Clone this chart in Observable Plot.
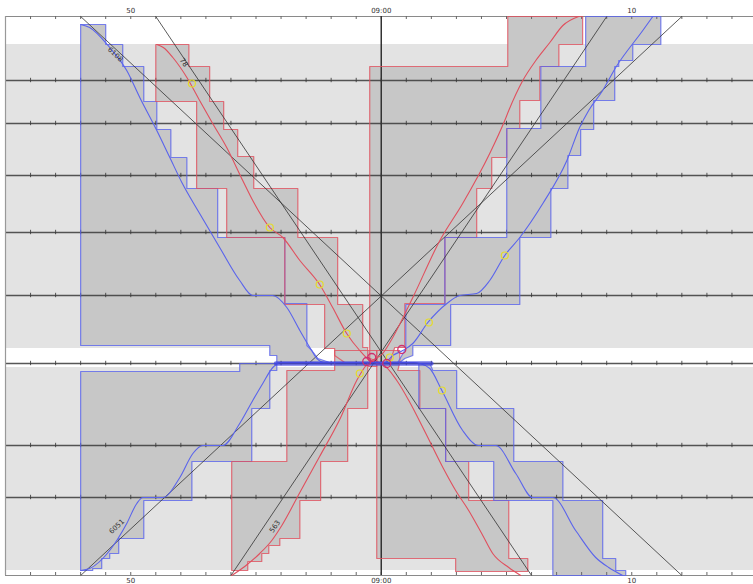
<!DOCTYPE html>
<html><head><meta charset="utf-8">
<script src="https://cdn.jsdelivr.net/npm/d3@7"></script>
<script src="https://cdn.jsdelivr.net/npm/@observablehq/plot@0.6"></script>
<style>body{margin:0;background:#fff} svg{display:block}</style>
</head><body><div id="chart"></div>
<script>
// x: minutes relative to 09:00, y: distance along the line (km)
const stations = [6.4, 10.7, 15.9, 21.6, 27.9, 34.7, 42.9, 48.1];
const edges = [0, 55.9];
const bands = [[2.8, 33.2], [35.1, 55.4]];
const timeTicks = [-10, 0, 10];
const timeTickLabels = ["50", "09:00", "10"];
const minuteMarks = [-15,-14,-13,-12,-11,-10,-9,-8,-7,-6,-5,-4,-3,-2,-1,0,1,2,3,4,5,6,7,8,9,10,11,12,13,14];

// envelopes (time windows) per train
const env6108Up = [[-12,0.8],[-11,0.8],[-11,2.8],[-10.32,2.8],[-10.32,5.0],[-9.48,5.0],[-9.48,8.5],[-8.96,8.5],[-8.96,11.3],[-8.4,11.3],[-8.4,14.1],[-7.76,14.1],[-7.76,17.2],[-6.53,17.2],[-6.53,22.1],[-3.85,22.1],[-3.85,28.7],[-2.97,28.7],[-2.97,32.9],[-2.77,33.4],[-2.53,34.2],[-2.06,34.6],[-4.17,34.6],[-4.17,33.9],[-4.45,33.9],[-4.45,32.9],[-12,32.9]];
const env78Up = [[-9.0,2.8],[-7.68,2.8],[-7.68,5.0],[-6.85,5.0],[-6.85,8.5],[-6.29,8.5],[-6.29,11.3],[-5.73,11.3],[-5.73,14.0],[-5.09,14.0],[-5.09,17.2],[-3.33,17.2],[-3.33,22.1],[-1.74,22.1],[-1.74,28.8],[-0.74,28.8],[-0.74,33.1],[-0.54,33.1],[-0.54,34.1],[-0.06,34.6],[-1.46,34.6],[-1.86,33.9],[-1.86,33.2],[-2.26,33.2],[-2.26,28.8],[-3.85,28.8],[-3.85,22.1],[-6.17,22.1],[-6.17,17.2],[-7.37,17.2],[-7.37,8.5],[-9.0,8.5]];
const env6051Down = [[-12,55.4],[-12,35.5],[-5.65,35.5],[-5.65,34.7],[-4.17,34.7],[-4.17,35.4],[-4.45,35.4],[-4.45,39.2],[-5.17,39.2],[-5.17,44.5],[-7.56,44.5],[-7.56,48.4],[-9.48,48.4],[-9.48,52.2],[-10.48,52.2],[-10.48,53.7],[-10.84,53.7],[-10.84,54.2],[-11.16,54.2],[-11.16,55.2],[-11.52,55.2],[-11.52,55.4]];
const env563Down = [[-5.97,55.4],[-5.97,44.5],[-3.77,44.5],[-3.77,35.4],[-1.86,35.4],[-1.86,33.4],[-0.18,33.4],[-0.18,35.0],[-0.54,35.0],[-0.54,39.2],[-1.34,39.2],[-1.34,44.5],[-2.42,44.5],[-2.42,48.4],[-3.25,48.4],[-3.25,52.2],[-4.05,52.2],[-4.05,52.9],[-4.49,52.9],[-4.49,53.7],[-4.77,53.7],[-4.77,54.5],[-5.33,54.5],[-5.33,55.4]];
const env78Down = [[-0.18,33.4],[0.74,33.4],[0.74,34.6],[0.66,35.4],[1.54,35.4],[1.54,39.2],[2.57,39.2],[2.57,44.5],[3.49,44.5],[3.49,48.4],[5.09,48.4],[5.09,54.2],[5.85,54.2],[5.85,55.5],[2.97,55.5],[2.97,54.2],[-0.18,54.2]];
const env6108Down = [[1.50,34.7],[1.94,34.7],[2.06,35.4],[3.01,35.4],[3.01,39.2],[5.29,39.2],[5.29,44.5],[7.25,44.5],[7.25,48.4],[8.84,48.4],[8.84,54.2],[9.36,54.2],[9.36,55.4],[9.76,55.4],[9.76,55.9],[6.85,55.9],[6.85,48.4],[4.49,48.4],[4.49,44.5],[2.57,44.5],[2.57,39.2],[1.50,39.2]];
const env563Up = [[-0.46,34.6],[-0.46,5.0],[5.05,5.0],[5.05,0],[8.04,0],[8.04,2.8],[7.09,2.8],[7.09,5.0],[6.33,5.0],[6.33,8.4],[5.53,8.4],[5.53,11.2],[5.01,11.2],[5.01,14.1],[4.41,14.1],[4.41,17.2],[3.81,17.2],[3.81,22.1],[2.54,22.1],[2.54,28.7],[0.94,28.7],[0.94,33.1],[0.54,33.1],[0.34,34.6]];
const env6051Up = [[0.66,34.6],[0.98,33.2],[0.98,28.8],[2.54,28.8],[2.54,22.1],[5.01,22.1],[5.01,11.2],[6.37,11.2],[6.37,5.0],[8.16,5.0],[8.16,0],[11.16,0],[11.16,2.8],[10.04,2.8],[10.04,4.4],[9.48,4.4],[9.48,5.0],[9.32,5.0],[9.32,8.4],[8.48,8.4],[8.48,11.3],[7.96,11.3],[7.96,13.9],[7.45,13.9],[7.45,17.2],[6.77,17.2],[6.77,22.1],[5.53,22.1],[5.53,28.8],[2.77,28.8],[2.77,32.9],[1.26,32.9],[1.26,33.9],[0.94,34.2],[0.74,34.6]];

// simulated runs
const run6108 = [[-12,0.8],[-11.64,1.1],[-10.84,3.1],[-10.16,5.4],[-9.64,8.1],[-8.96,11.4],[-8.44,14.1],[-7.96,16.6],[-7.25,19.7],[-6.45,23.1],[-5.65,26.4],[-5.13,27.9],[-4.33,27.9],[-3.77,29.1],[-3.25,31.4],[-2.85,33.1],[-2.57,34.2],[-2.26,34.6],[1.3,34.6],[1.54,34.7],[1.94,35.2],[2.42,37.4],[3.25,41.4],[3.89,42.9],[4.57,42.9],[5.37,45.7],[6.05,48.1],[6.85,48.1],[7.76,51.4],[8.56,54.1],[9.08,55.1],[9.64,55.9]];
const run78 = [[-8.96,2.8],[-8.7,3.1],[-8.32,4.1],[-7.76,6.1],[-7.25,8.4],[-6.73,10.7],[-6.17,13.1],[-5.53,16.4],[-5.13,18.4],[-4.45,21.1],[-3.93,22.1],[-3.25,24.4],[-2.46,26.8],[-1.94,29.1],[-1.38,31.7],[-0.86,33.4],[-0.46,34.4],[-0.14,34.7],[0.06,34.8],[0.62,36.4],[1.10,38.4],[1.78,41.7],[2.46,45.1],[2.97,47.4],[3.49,49.4],[4.01,51.7],[4.45,53.7],[5.09,55.1],[5.57,55.9]];
const run6051 = [[-12,55.4],[-11.64,55.2],[-10.84,53.4],[-10.16,50.7],[-9.76,48.7],[-9.52,48.1],[-8.72,48.1],[-8.04,46.1],[-7.52,43.7],[-7.13,42.9],[-6.33,42.9],[-5.65,40.7],[-5.13,38.4],[-4.73,36.7],[-4.33,35.1],[-4.01,34.6],[0.14,34.6],[0.46,33.9],[0.86,33.4],[1.26,32.7],[1.86,30.6],[2.62,28.7],[3.13,27.9],[3.81,27.7],[4.33,26.4],[4.93,23.9],[5.53,22.1],[6.45,18.7],[7.41,14.4],[7.92,11.1],[8.28,9.4],[8.84,7.4],[9.36,5.1],[10.44,1.4],[10.84,0]];
const run563 = [[-5.97,55.9],[-5.45,55.0],[-4.85,53.7],[-4.37,52.4],[-3.97,50.9],[-3.25,47.6],[-2.46,44.0],[-1.62,40.1],[-0.98,36.4],[-0.58,34.8],[0.06,33.7],[0.46,32.1],[1.26,28.1],[2.34,22.4],[3.25,18.7],[4.33,13.7],[4.93,10.4],[5.09,9.4],[5.65,6.4],[6.17,4.4],[6.73,2.6],[7.25,0.9],[7.88,0]];
const dwell = [[-4.2,34.7],[2.0,34.7]];

// planned (straight) paths
const trainNames = ["6108", "78", "6051", "563"];
const planStart = [[-12,0],[-9,0],[-12,55.9],[-6,55.9]];
const planEnd = [[12,55.9],[6,55.9],[12,0],[9,0]];
const labelAt = [[-10.62,3.8],[-7.88,4.6],[-10.56,51.0],[-4.25,51.0]];
const labelAngle = [43, 56, -43, -56];

const yellowMarks = [[-7.56,6.7],[-4.45,21.1],[-2.46,26.8],[-1.38,31.7],[-0.86,35.7],[0.34,34.1],[1.90,30.6],[4.93,23.9],[2.42,37.4]];
const pinkMarks = [[-0.58,34.5],[-0.38,34.1],[0.22,34.7],[0.82,33.3]];

const BLUE = "#5a64ec", RED = "#e0505e", INK = "#3a3a3a";
const envelopes = [
  ["6108a", BLUE, env6108Up], ["78a", RED, env78Up], ["6051a", BLUE, env6051Down], ["563a", RED, env563Down],
  ["78b", RED, env78Down], ["6108b", BLUE, env6108Down], ["563b", RED, env563Up], ["6051b", BLUE, env6051Up]
];
const envRows = envelopes.flatMap(([id, color, pts]) => [...pts, pts[0]].map(([t, d]) => ({id, color, t, d})));
const runs = [["6108", BLUE, run6108], ["78", RED, run78], ["6051", BLUE, run6051], ["563", RED, run563]];
const runRows = runs.flatMap(([id, color, pts]) => pts.map(([t, d]) => ({id, color, t, d})));
const plans = trainNames.map((name, i) => ({name, t1: planStart[i][0], d1: planStart[i][1], t2: planEnd[i][0], d2: planEnd[i][1], lt: labelAt[i][0], ld: labelAt[i][1], angle: labelAngle[i]}));
const tickRows = stations.flatMap(s => minuteMarks.map(m => ({t: m, d: s})));

const chart = Plot.plot({
  width: 753, height: 584,
  marginLeft: 5, marginRight: 0, marginTop: 16, marginBottom: 9,
  x: {domain: [-15, 14.86]},
  y: {domain: [0, 55.9], reverse: true, axis: null},
  color: {type: "identity"},
  style: {fontFamily: "DejaVu Sans", fontSize: "7px", background: "white", overflow: "visible"},
  marks: [
    Plot.rect(bands, {y1: d => d[0], y2: d => d[1], fill: "#e3e3e3"}),
    Plot.line(envRows, {x: "t", y: "d", z: "id", fill: "#c7c7c7", stroke: null, curve: "linear"}),
    Plot.ruleY(stations, {stroke: INK, strokeWidth: 1.4, strokeOpacity: 0.85}),
    Plot.ruleX(tickRows, {x: "t", y1: d => d.d - 0.22, y2: d => d.d + 0.22, stroke: INK, strokeOpacity: 0.85}),
    Plot.ruleY(edges, {stroke: "#8a8a8a", strokeWidth: 1.2}),
    Plot.ruleX(minuteMarks, {y1: 0, y2: 0.3, stroke: "#666"}),
    Plot.ruleX(minuteMarks, {y1: 55.6, y2: 55.9, stroke: "#666"}),
    Plot.ruleX([-15], {y1: 0, y2: 55.9, stroke: "#999", strokeWidth: 1.2}),
    Plot.ruleX([0], {y1: 0, y2: 55.9, stroke: "#333", strokeWidth: 1.5}),
    Plot.line(envRows, {x: "t", y: "d", z: "id", stroke: "color", strokeWidth: 1.2, strokeOpacity: 0.8}),
    Plot.link(plans, {x1: "t1", y1: "d1", x2: "t2", y2: "d2", stroke: "#333", strokeWidth: 1, strokeOpacity: 0.8}),
    Plot.line(runRows, {x: "t", y: "d", z: "id", stroke: "color", strokeWidth: 1.1, curve: "monotone-x"}),
    Plot.line(dwell, {x: d => d[0], y: d => d[1], stroke: "#3b3fe0", strokeWidth: 4.5, strokeOpacity: 0.7}),
    Plot.dot(yellowMarks, {x: d => d[0], y: d => d[1], r: 3.5, stroke: "#e4dc2a", strokeWidth: 1.2}),
    Plot.dot(pinkMarks, {x: d => d[0], y: d => d[1], r: 4, stroke: "#d0306e", strokeWidth: 1.3}),
    Plot.text(plans, {x: "lt", y: "ld", text: "name", rotate: "angle", fontSize: 7, fill: "#333"}),
    Plot.axisX(timeTicks, {anchor: "top", tickSize: 0, tickPadding: 4, fontSize: 7, fill: "#333", tickFormat: d => timeTickLabels[timeTicks.indexOf(d)]}),
    Plot.axisX(timeTicks, {anchor: "bottom", tickSize: 0, tickPadding: 3, fontSize: 7, fill: "#333", tickFormat: d => timeTickLabels[timeTicks.indexOf(d)]})
  ]
});
document.getElementById("chart").appendChild(chart);
</script>
</body></html>
